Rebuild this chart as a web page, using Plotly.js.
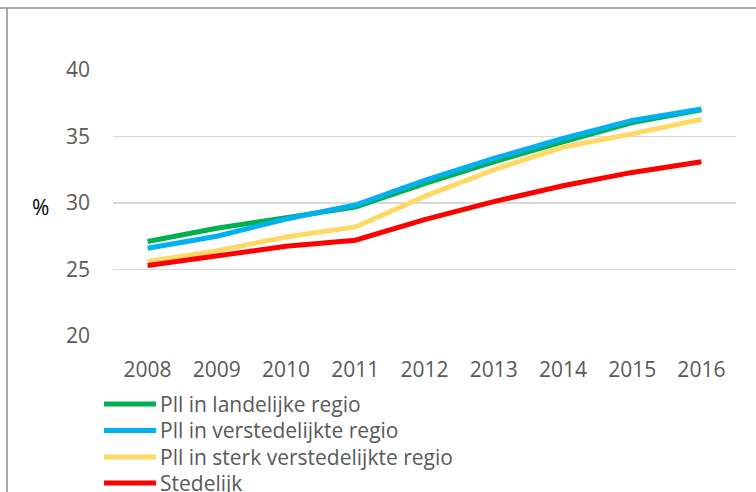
<!DOCTYPE html>
<html>
<head>
<meta charset="utf-8">
<script src="https://cdn.plot.ly/plotly-3.0.1.min.js"></script>
<style>html,body{margin:0;padding:0;background:#fff;}#chart{width:756px;height:492px;}</style>
</head>
<body>
<div id="chart"></div>
<script>
const years = ['2008','2009','2010','2011','2012','2013','2014','2015','2016'];
const seriesNames = ['Pll in landelijke regio','Pll in verstedelijkte regio','Pll in sterk verstedelijkte regio','Stedelijk'];
const landelijk = [27.1, 28.1, 28.9, 29.7, 31.45, 33.1, 34.6, 36.05, 37.0];
const verstedelijkt = [26.6, 27.5, 28.8, 29.85, 31.7, 33.35, 34.85, 36.2, 37.07];
const sterkVerstedelijkt = [25.6, 26.4, 27.45, 28.2, 30.5, 32.5, 34.2, 35.2, 36.3];
const stedelijk = [25.3, 26.05, 26.75, 27.2, 28.75, 30.1, 31.3, 32.3, 33.1];
const colors = ['#00B050','#00B0F0','#FFD966','#FF0000'];
const yTicks = [20, 25, 30, 35, 40];

const W = 756, H = 492;
const M = {l: 113, r: 20, t: 70, b: 156};
const pw = W - M.l - M.r, ph = H - M.t - M.b;
const px = x => (x - M.l) / pw;
const py = y => (H - M.b - y) / ph;

const data = [landelijk, verstedelijkt, sterkVerstedelijkt, stedelijk].map((v, i) => ({
  type: 'scatter', mode: 'lines', x: years, y: v, name: seriesNames[i],
  line: {color: colors[i], width: 5}, showlegend: false, hoverinfo: 'skip'
}));

const shapes = [
  {type: 'line', xref: 'paper', yref: 'paper', x0: px(0), x1: px(756), y0: py(8), y1: py(8), line: {color: '#8c8c8c', width: 1.5}},
  {type: 'line', xref: 'paper', yref: 'paper', x0: px(7), x1: px(7), y0: py(8), y1: py(492), line: {color: '#8c8c8c', width: 1.5}}
];
const annotations = [
  {xref: 'paper', yref: 'paper', x: px(40), y: py(207), text: '%', showarrow: false,
   xanchor: 'center', yanchor: 'middle', font: {family: 'Open Sans', size: 21, color: '#000'}}
];
const legendY = [404, 430.5, 457, 483];
seriesNames.forEach((n, i) => {
  shapes.push({type: 'line', xref: 'paper', yref: 'paper', x0: px(104), x1: px(156), y0: py(legendY[i]), y1: py(legendY[i]),
    line: {color: colors[i], width: 5}});
  annotations.push({xref: 'paper', yref: 'paper', x: px(158), y: py(legendY[i]), text: n, showarrow: false,
    xanchor: 'left', yanchor: 'middle', font: {family: 'Open Sans', size: 21, color: '#595959'}});
});

const layout = {
  width: W, height: H, margin: M,
  paper_bgcolor: '#fff', plot_bgcolor: '#fff',
  showlegend: false,
  font: {family: 'Open Sans', size: 21, color: '#595959'},
  xaxis: {type: 'category', range: [-0.5, 8.5], showgrid: false, zeroline: false, showline: false, ticks: '',
    ticklabelstandoff: 19, tickfont: {family: 'Open Sans', size: 21, color: '#595959'}, fixedrange: true},
  yaxis: {range: [20, 40], tickvals: yTicks, showgrid: true, gridcolor: '#d9d9d9', gridwidth: 1.5,
    zeroline: false, showline: false, ticks: '', ticklabelstandoff: 22,
    tickfont: {family: 'Open Sans', size: 21, color: '#595959'}, fixedrange: true},
  shapes: shapes, annotations: annotations
};
Plotly.newPlot('chart', data, layout, {staticPlot: true});
</script>
</body>
</html>
